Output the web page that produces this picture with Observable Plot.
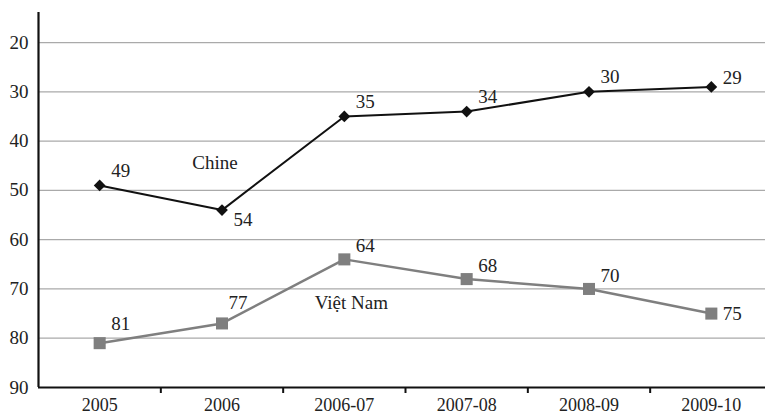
<!DOCTYPE html>
<html>
<head>
<meta charset="utf-8">
<script src="https://cdn.jsdelivr.net/npm/d3@7"></script>
<script src="https://cdn.jsdelivr.net/npm/@observablehq/plot@0.6"></script>
<style>
  html, body { margin: 0; padding: 0; background: #fff; }
</style>
</head>
<body>
<div id="chart"></div>
<script>
const periods = ["2005", "2006", "2006-07", "2007-08", "2008-09", "2009-10"];
const chine = [49, 54, 35, 34, 30, 29];
const vietnam = [81, 77, 64, 68, 70, 75];
const yTicks = [20, 30, 40, 50, 60, 70, 80, 90];
const gridTicks = [20, 30, 40, 50, 60, 70, 80];
const seriesNames = ["Chine", "Việt Nam"];

const rowsC = chine.map((v, i) => ({i, v}));
const rowsV = vietnam.map((v, i) => ({i, v}));
const boundaries = periods.slice(1).map((_, k) => k + 0.5);

const font = "'Liberation Serif', 'DejaVu Serif', serif";
const fs = 19;
const txt = {fontSize: fs, fontFamily: font, fill: "#222"};

const plot = Plot.plot({
  width: 765,
  height: 417,
  marginLeft: 38,
  marginRight: -7,
  marginTop: 12,
  marginBottom: 30,
  style: {fontFamily: font, fontSize: fs + "px", color: "#222", background: "#fff"},
  x: {type: "linear", domain: [-0.5, periods.length - 0.5], axis: null},
  y: {domain: [90, 13.9], axis: null},
  marks: [
    Plot.gridY(gridTicks, {stroke: "#aaa", strokeOpacity: 1, strokeWidth: 1.2}),
    Plot.axisY(yTicks, {label: null, tickSize: 0, tickPadding: 10, ...txt}),
    Plot.axisX(d3.range(periods.length), {label: null, tickSize: 0, tickPadding: 11, tickFormat: i => periods[i], ...txt, fontSize: 18}),
    Plot.axisX(boundaries, {label: null, tickSize: 6, tickFormat: () => "", stroke: "#111", strokeWidth: 2}),
    Plot.ruleY([90], {stroke: "#111", strokeWidth: 2.2}),
    Plot.ruleX([-0.5], {y1: 90, y2: 13.9, stroke: "#111", strokeWidth: 2.2}),
    // Chine
    Plot.line(rowsC, {x: "i", y: "v", stroke: "#111", strokeWidth: 2}),
    Plot.dot(rowsC, {x: "i", y: "v", symbol: "diamond2", r: 5.3, fill: "#111", stroke: "none"}),
    Plot.text(rowsC.filter(d => d.i === 0 || d.i === 2 || d.i === 3 || d.i === 4), {x: "i", y: "v", text: d => String(d.v), dx: 21, dy: -15, ...txt}),
    Plot.text(rowsC.filter(d => d.i === 1), {x: "i", y: "v", text: d => String(d.v), dx: 21, dy: 10, ...txt}),
    Plot.text(rowsC.filter(d => d.i === 5), {x: "i", y: "v", text: d => String(d.v), dx: 21, dy: -9, ...txt}),
    // Viet Nam
    Plot.line(rowsV, {x: "i", y: "v", stroke: "#7f7f7f", strokeWidth: 2.5}),
    Plot.dot(rowsV, {x: "i", y: "v", symbol: "square", r: 6.8, fill: "#7f7f7f", stroke: "none"}),
    Plot.text(rowsV.filter(d => d.i === 0), {x: "i", y: "v", text: d => String(d.v), dx: 21, dy: -19, ...txt}),
    Plot.text(rowsV.filter(d => d.i === 1), {x: "i", y: "v", text: d => String(d.v), dx: 16, dy: -21, ...txt}),
    Plot.text(rowsV.filter(d => d.i === 2 || d.i === 3 || d.i === 4), {x: "i", y: "v", text: d => String(d.v), dx: 21, dy: -13, ...txt}),
    Plot.text(rowsV.filter(d => d.i === 5), {x: "i", y: "v", text: d => String(d.v), dx: 21, dy: 0, ...txt}),
    // series labels
    Plot.text([rowsC[1]], {x: "i", y: "v", text: () => seriesNames[0], dx: -7, dy: -47, ...txt}),
    Plot.text([rowsV[2]], {x: "i", y: "v", text: () => seriesNames[1], dx: 7, dy: 44, ...txt})
  ]
});
document.getElementById("chart").appendChild(plot);
</script>
</body>
</html>
